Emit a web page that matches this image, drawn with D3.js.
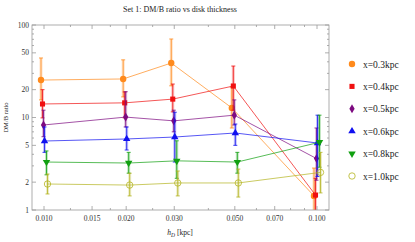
<!DOCTYPE html>
<html>
<head>
<meta charset="utf-8">
<script src="https://cdn.jsdelivr.net/npm/d3@7"></script>
<style>
  body { margin: 0; background: #fff; }
  text { font-family: "Liberation Serif", "DejaVu Serif", serif; }
</style>
</head>
<body>
<div id="chart"></div>
<script>
// thickness values (kpc)
const hD = [0.010, 0.020, 0.030, 0.050, 0.100];
const seriesNames = ["x=0.3kpc", "x=0.4kpc", "x=0.5kpc", "x=0.6kpc", "x=0.8kpc", "x=1.0kpc"];

// ratio values per series, with lower / upper error ends
const r03 = [25.4, 26.1, 38.8, 12.7, 1.42];
const r03lo = [15.5, 16.7, 22, 7.7, 0.8];
const r03hi = [44, 42, 70.6, 21.3, 2.84];

const r04 = [14.0, 14.4, 15.8, 21.9, 1.45];
const r04lo = [9.9, 9.9, 11.5, 12, 0.8];
const r04hi = [20, 18.9, 23, 36, 2.2];

const r05 = [8.3, 10.1, 9.2, 10.6, 3.6];
const r05lo = [6.2, 7.9, 7.0, 8.3, 2.1];
const r05hi = [12, 19, 12, 15.5, 7.7];

const r06 = [5.57, 5.86, 6.15, 6.8, 5.3];
const r06lo = [4.2, 4.45, 3.3, 5.0, 2.3];
const r06hi = [7.9, 7.9, 11.4, 8.5, 10.6];

const r08 = [3.3, 3.22, 3.4, 3.3, 5.4];
const r08lo = [2.4, 2.5, 2.2, 2.5, 2.9];
const r08hi = [4.35, 4.2, 5.6, 4.2, 10.6];

const r10 = [1.91, 1.86, 1.96, 1.96, 2.55];
const r10lo = [1.49, 1.42, 1.42, 1.38, 1.53];
const r10hi = [2.45, 2.5, 2.64, 2.77, 4.2];

const xTicks = [0.010, 0.015, 0.020, 0.030, 0.050, 0.070, 0.100];
const xMinor = [0.0125, 0.0175, 0.025, 0.04, 0.06, 0.08, 0.09];
const yTicks = [1, 2, 5, 10, 20, 50, 100];
const yMinor = [3, 4, 6, 7, 8, 9, 30, 40, 60, 70, 80, 90];

const colors = ["#ff8a1c", "#f01010", "#7d0a80", "#1010f0", "#10a010", "#b4b420"];
const shapes = [d3.symbolCircle, d3.symbolSquare, d3.symbolDiamond, d3.symbolTriangle, "down", "open"];
const jitter = [-3, -1.5, -0.5, 0.5, 2.5, 3.5];

const vals = [r03, r04, r05, r06, r08, r10];
const los = [r03lo, r04lo, r05lo, r06lo, r08lo, r10lo];
const his = [r03hi, r04hi, r05hi, r06hi, r08hi, r10hi];

const W = 415, H = 242;
const L = 32, R = 329, T = 25, B = 210;

const svg = d3.select("#chart").append("svg")
  .attr("width", W).attr("height", H);

const x = d3.scaleLog().domain([0.01, 0.1]).range([44, 317]);
const y = d3.scaleLog().domain([1, 100]).range([B, T]);

svg.append("defs").append("clipPath").attr("id", "clip")
  .append("rect").attr("x", L).attr("y", T).attr("width", R - L).attr("height", B - T);

const plot = svg.append("g").attr("clip-path", "url(#clip)");

function marker(g, i, c) {
  const s = shapes[i];
  if (s === "open") {
    g.append("circle").attr("r", 3.2).attr("fill", "none").attr("stroke", c).attr("stroke-width", 0.8);
  } else if (s === "down") {
    g.append("path").attr("d", d3.symbol(d3.symbolTriangle, 24)()).attr("transform", "rotate(180)").attr("fill", c);
  } else {
    const sz = s === d3.symbolCircle ? 32 : s === d3.symbolSquare ? 26 : 24;
    g.append("path").attr("d", d3.symbol(s, sz)()).attr("fill", c);
  }
}

vals.forEach((v, i) => {
  const c = colors[i];
  const pts = hD.map((h, j) => ({ px: x(h) + jitter[i], v: v[j], lo: los[i][j], hi: his[i][j] }));
  const g = plot.append("g");
  g.append("path")
    .attr("d", d3.line().x(d => d.px).y(d => y(d.v))(pts))
    .attr("fill", "none").attr("stroke", c).attr("stroke-opacity", 0.7).attr("stroke-width", 1);
  pts.forEach(d => {
    const eb = g.append("g");
    eb.append("line").attr("x1", d.px).attr("x2", d.px)
      .attr("y1", y(d.lo)).attr("y2", y(d.hi))
      .attr("stroke", c).attr("stroke-opacity", 0.25).attr("stroke-width", 3);
    eb.append("line").attr("x1", d.px).attr("x2", d.px)
      .attr("y1", y(d.lo)).attr("y2", y(d.hi))
      .attr("stroke", c).attr("stroke-width", 0.8);
    [d.lo, d.hi].forEach(e => {
      eb.append("line").attr("x1", d.px - 2).attr("x2", d.px + 2)
        .attr("y1", y(e)).attr("y2", y(e))
        .attr("stroke", c).attr("stroke-width", 0.8);
    });
  });
  pts.forEach(d => {
    const m = g.append("g").attr("transform", `translate(${d.px},${y(d.v)})`);
    marker(m, i, c);
  });
});

// frame
const ax = svg.append("g").attr("stroke", "#999").attr("stroke-width", 0.8);
ax.append("rect").attr("x", L).attr("y", T).attr("width", R - L).attr("height", B - T).attr("fill", "none");

xTicks.forEach(t => {
  ax.append("line").attr("x1", x(t)).attr("x2", x(t)).attr("y1", B).attr("y2", B - 4);
  ax.append("line").attr("x1", x(t)).attr("x2", x(t)).attr("y1", T).attr("y2", T + 4);
});
xMinor.forEach(t => {
  ax.append("line").attr("x1", x(t)).attr("x2", x(t)).attr("y1", B).attr("y2", B - 2);
  ax.append("line").attr("x1", x(t)).attr("x2", x(t)).attr("y1", T).attr("y2", T + 2);
});
yTicks.forEach(t => {
  ax.append("line").attr("x1", L).attr("x2", L + 4).attr("y1", y(t)).attr("y2", y(t));
  ax.append("line").attr("x1", R).attr("x2", R - 4).attr("y1", y(t)).attr("y2", y(t));
});
yMinor.forEach(t => {
  ax.append("line").attr("x1", L).attr("x2", L + 2).attr("y1", y(t)).attr("y2", y(t));
  ax.append("line").attr("x1", R).attr("x2", R - 2).attr("y1", y(t)).attr("y2", y(t));
});

svg.append("g").selectAll("text").data(xTicks).join("text")
  .attr("x", d => x(d)).attr("y", B + 11)
  .attr("text-anchor", "middle").attr("font-size", 7.5).attr("fill", "#333")
  .text(d => d.toFixed(3));

svg.append("g").selectAll("text").data(yTicks).join("text")
  .attr("x", L - 3).attr("y", d => y(d) + 2.5)
  .attr("text-anchor", "end").attr("font-size", 7.5).attr("fill", "#333")
  .text(d => d);

svg.append("text").attr("x", 180).attr("y", 12).attr("text-anchor", "middle")
  .attr("font-size", 8).attr("fill", "#222")
  .text("Set 1: DM/B ratio vs disk thickness");

svg.append("text").attr("transform", `translate(8,${(T + B) / 2}) rotate(-90)`)
  .attr("text-anchor", "middle").attr("font-size", 6.5).attr("fill", "#222")
  .text("DM/B ratio");

const xl = svg.append("text").attr("x", 180).attr("y", 235).attr("text-anchor", "middle")
  .attr("font-size", 7.5).attr("fill", "#222");
xl.append("tspan").attr("font-style", "italic").text("h");
xl.append("tspan").attr("font-style", "italic").attr("font-size", 5.5).attr("dy", 1.5).text("D");
xl.append("tspan").attr("dy", -1.5).text(" [kpc]");

// legend
const lg = svg.append("g");
seriesNames.forEach((n, i) => {
  const yy = 64 + i * 22.4;
  const m = lg.append("g").attr("transform", `translate(352,${yy})`);
  marker(m, i, colors[i]);
  lg.append("text").attr("x", 363).attr("y", yy + 3.5).attr("font-size", 9.5).attr("fill", "#222").text(n);
});
</script>
</body>
</html>
